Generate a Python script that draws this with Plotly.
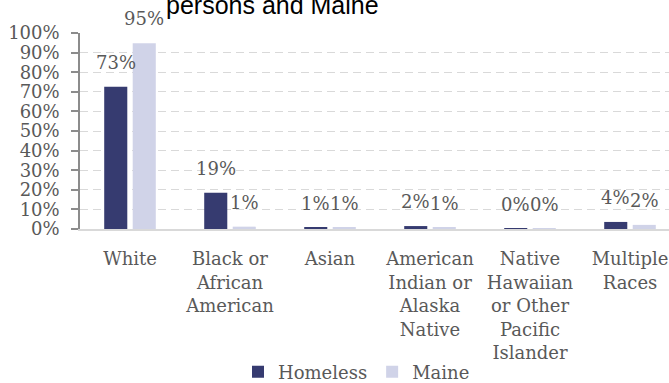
import plotly.graph_objects as go

categories = ["White", "Black or<br>African<br>American", "Asian",
              "American<br>Indian or<br>Alaska<br>Native",
              "Native<br>Hawaiian<br>or Other<br>Pacific<br>Islander",
              "Multiple<br>Races"]
homeless = [0.726, 0.185, 0.006, 0.015, 0.002, 0.036]
maine = [0.948, 0.012, 0.007, 0.006, 0.0005, 0.021]
homeless_labels = ["73%", "19%", "1%", "2%", "0%", "4%"]
maine_labels = ["95%", "1%", "1%", "1%", "0%", "2%"]
yticks = [i / 10 for i in range(11)]
ytick_text = [f"{i*10}%" for i in range(11)]

FONT = "DejaVu Serif"
TXT = "#595959"

fig = go.Figure()
fig.add_trace(go.Bar(name="Homeless", x=categories, y=homeless,
                     marker=dict(color="#363b70", line=dict(width=0))))
fig.add_trace(go.Bar(name="Maine", x=categories, y=maine,
                     marker=dict(color="#d0d3e8", line=dict(width=0))))

annotations = []
for i, c in enumerate(categories):
    for val, lab, shift in ((homeless[i], homeless_labels[i], -14.25),
                            (maine[i], maine_labels[i], 14.25)):
        annotations.append(dict(x=c, y=val, xref="x", yref="y", text=lab,
                                showarrow=False, xshift=shift, yshift=12,
                                yanchor="bottom",
                                font=dict(family=FONT, size=18, color=TXT)))

annotations.append(dict(text="persons and Maine", xref="paper", yref="paper",
                        x=(272 - 80) / 589, y=1 + (33 - 5) / 196,
                        xanchor="center", yanchor="middle", showarrow=False,
                        font=dict(family="Liberation Sans", size=25, color="#000000")))

fig.update_layout(
    width=669, height=383,
    margin=dict(l=80, r=0, t=33, b=154, autoexpand=False),
    paper_bgcolor="white", plot_bgcolor="white",
    barmode="group", bargap=0.43, bargroupgap=0.19,
    showlegend=True,
    legend=dict(orientation="h", x=(238 - 80) / 589, y=(229 - 372) / 196,
                xanchor="left", yanchor="middle",
                font=dict(family=FONT, size=18, color=TXT),
                bgcolor="rgba(0,0,0,0)"),
    annotations=annotations,
    xaxis=dict(range=[-0.5, 5.39], showgrid=False, showline=True,
               linecolor="#d9d9d9", linewidth=1.5, ticks="",
               tickfont=dict(family=FONT, size=18, color=TXT),
               ticklabelstandoff=13, fixedrange=True, automargin=False),
    yaxis=dict(range=[0, 1], tickvals=yticks, ticktext=ytick_text,
               showgrid=True, gridcolor="#d9d9d9", griddash="8px,5px",
               gridwidth=1, zeroline=False,
               showline=True, linecolor="#8c8c8c", linewidth=1.5,
               ticks="outside", ticklen=7, tickcolor="#8c8c8c", tickwidth=1.5,
               tickfont=dict(family=FONT, size=18, color=TXT),
               ticklabelstandoff=8, fixedrange=True, automargin=False),
)

fig.write_html("out.html", config={"displayModeBar": False},
               post_script="document.body.style.margin='0';"
                           "document.body.style.overflow='hidden';")
